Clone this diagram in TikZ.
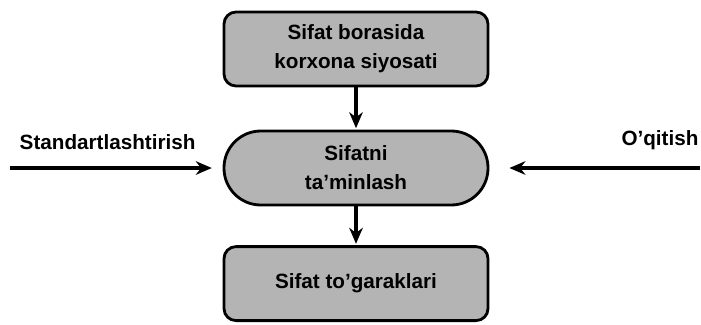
\documentclass[tikz,border=0pt]{standalone}
\usepackage{fontspec}
\setmainfont{Liberation Sans}
\usepackage{tikz}
\usetikzlibrary{positioning,arrows.meta}
\definecolor{fondo}{HTML}{B4B4B4}
\tikzset{
  blok/.style={draw, line width=2pt, fill=fondo, rounded corners=0.3cm,
    minimum width=6.6cm, minimum height=1.85cm, align=center},
  oval/.style={blok, rounded corners=0.92cm},
  strelka/.style={line width=2.2pt, -{Stealth[length=4mm,width=3.4mm]}}
}
\begin{document}
\begin{tikzpicture}[font=\fontsize{14.7}{20.6}\selectfont\bfseries]
  \useasboundingbox (0,0) rectangle (17.525,-8.1);
  % bloklar
  \node[blok] (siyosat) at (8.9,-1.225) {Sifat borasida\\korxona siyosati};
  \node[oval] (taminlash) at (8.9,-4.2) {Sifatni\\ta'minlash};
  \node[blok] (togarak) at (8.9,-7.09) {Sifat to'garaklari};
  \draw[strelka, shorten >=1pt] (siyosat) -- (taminlash);
  \draw[strelka, shorten >=1pt] (taminlash) -- (togarak);
  % chap va o'ng kirishlar
  \coordinate (chap) at (0.25,-4.2);
  \coordinate (ong) at (17.5,-4.2);
  \draw[strelka, shorten >=0.27cm] (chap) -- (taminlash);
  \draw[strelka, shorten >=0.5cm] (ong) -- (taminlash);
  \node (standart) at (2.69,-3.55) {Standartlashtirish};
  \node (oqitish) at (16.5,-3.5) {O'qitish};
\end{tikzpicture}
\end{document}
